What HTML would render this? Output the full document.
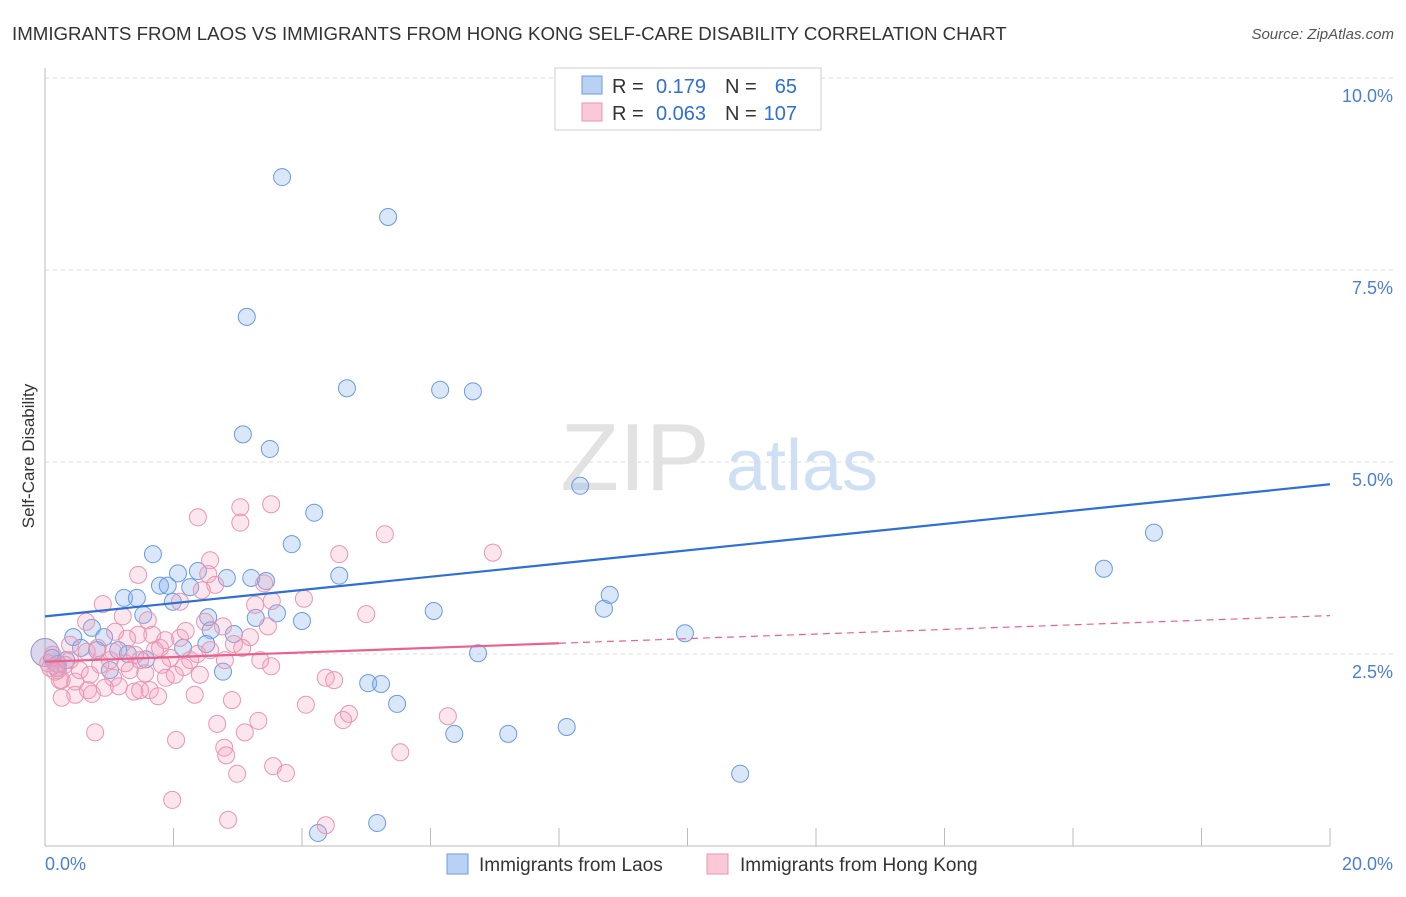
<!DOCTYPE html>
<html><head><meta charset="utf-8"><style>
body{margin:0;background:#fff;font-family:"Liberation Sans",sans-serif;}
svg text{font-family:"Liberation Sans",sans-serif;}
</style></head><body>
<svg id="chart" width="1406" height="892">
<text x="12" y="40" font-size="18.7" fill="#333">IMMIGRANTS FROM LAOS VS IMMIGRANTS FROM HONG KONG SELF-CARE DISABILITY CORRELATION CHART</text>
<text x="1394" y="39" font-size="15" fill="#555" font-style="italic" text-anchor="end">Source: ZipAtlas.com</text>
<g><text x="635" y="490" font-size="96" fill="#e2e2e2" font-family="Liberation Serif" text-anchor="middle">ZIP</text><text x="802" y="490" font-size="72" fill="#cfe0f5" text-anchor="middle">atlas</text></g>
<g id="grid"></g><g id="axes"></g><g id="pts"></g><g id="lines"></g>
<text transform="translate(34,456) rotate(-90)" font-size="17" fill="#333" text-anchor="middle">Self-Care Disability</text>
<g>
<rect x="555" y="68" width="266" height="62" fill="#fff" stroke="#ccc"/>
<rect x="582" y="76" width="20" height="18" fill="#b9d2f4" stroke="#6d9be0"/>
<rect x="582" y="103" width="20" height="18" fill="#f9c9d8" stroke="#e897b0"/>
<text x="612" y="93" font-size="20" fill="#333">R =</text>
<text x="706" y="93" font-size="20" fill="#2d6fd6" text-anchor="end">0.179</text>
<text x="725" y="93" font-size="20" fill="#333">N =</text>
<text x="797" y="93" font-size="20" fill="#2d6fd6" text-anchor="end">65</text>
<text x="612" y="120" font-size="20" fill="#333">R =</text>
<text x="706" y="120" font-size="20" fill="#2d6fd6" text-anchor="end">0.063</text>
<text x="725" y="120" font-size="20" fill="#333">N =</text>
<text x="797" y="120" font-size="20" fill="#2d6fd6" text-anchor="end">107</text>
</g>
<g>
<rect x="447" y="854" width="21" height="20" fill="#b9d2f4" stroke="#6d9be0"/>
<text x="479" y="871" font-size="19" fill="#333">Immigrants from Laos</text>
<rect x="707" y="854" width="21" height="20" fill="#f9c9d8" stroke="#e897b0"/>
<text x="740" y="871" font-size="19" fill="#333">Immigrants from Hong Kong</text>
</g>
</svg>
<script>
const yTicks=[2.5,5.0,7.5,10.0];
const yTickLabels=["2.5%","5.0%","7.5%","10.0%"];
const xTicks=[0,2,4,6,8,10,12,14,16,18,20];
const xEndLabels=["0.0%","20.0%"];
const laosX=[3.69,5.34,3.14,4.70,6.15,6.66,3.08,3.50,8.33,17.26,16.48,4.19,3.84,1.68,2.07,2.83,3.21,3.44,4.58,2.38,1.79,1.91,2.26,1.23,1.43,1.99,1.53,2.54,3.61,3.28,4.00,6.05,8.70,8.79,9.96,0.73,0.44,0.92,2.94,2.58,0.56,0.81,1.14,1.29,1.57,2.15,2.51,6.74,0.33,0.20,0.11,1.01,2.77,5.03,5.23,5.48,6.37,7.21,8.12,10.82,4.25,5.17,11.60,0.19];
const laosY=[8.71,8.19,6.89,5.96,5.94,5.92,5.36,5.17,4.69,4.08,3.61,4.34,3.93,3.80,3.55,3.49,3.49,3.45,3.52,3.58,3.39,3.39,3.37,3.23,3.23,3.18,3.01,2.98,3.03,2.97,2.93,3.06,3.09,3.27,2.77,2.84,2.72,2.72,2.76,2.81,2.58,2.55,2.55,2.50,2.43,2.58,2.63,2.51,2.42,2.37,2.45,2.29,2.27,2.12,2.11,1.85,1.46,1.46,1.55,0.94,0.17,0.30,9.52,2.32];
const hkX=[2.38,3.04,3.52,3.04,4.58,5.29,6.97,2.57,1.45,2.54,3.41,2.44,0.90,1.21,4.03,3.53,2.10,5.00,1.60,2.49,0.64,1.45,1.67,2.10,2.19,3.19,2.77,3.47,2.94,2.37,2.80,1.95,3.07,3.52,1.28,1.79,1.06,0.82,0.65,0.39,0.20,0.26,0.47,0.67,1.06,1.32,1.56,1.82,1.88,2.16,1.63,1.15,1.39,0.47,0.26,0.73,1.76,2.33,2.91,4.37,4.50,4.06,4.73,4.64,6.27,2.68,3.32,3.11,2.04,0.78,2.79,2.82,5.53,2.99,3.55,3.75,1.98,2.85,4.37,0.23,0.16,0.31,0.86,1.01,1.25,1.48,0.54,0.70,0.93,1.71,1.87,2.26,0.05,0.08,0.12,0.39,1.09,1.40,2.02,2.41,3.35,2.57,3.27,2.65,1.48];
const hkY=[4.28,4.41,4.45,4.21,3.80,4.06,3.82,3.72,3.53,3.54,3.42,3.33,3.15,2.99,3.22,3.19,3.18,3.02,2.94,2.92,2.92,2.75,2.75,2.71,2.80,2.72,2.86,2.86,2.63,2.50,2.42,2.45,2.58,2.34,2.70,2.58,2.53,2.58,2.53,2.42,2.29,2.16,2.14,2.03,2.19,2.29,2.25,2.36,2.19,2.33,2.03,2.08,2.01,1.97,1.93,1.98,1.95,1.97,1.90,2.19,2.16,1.84,1.72,1.64,1.69,1.59,1.63,1.48,1.38,1.48,1.28,1.18,1.22,0.94,1.04,0.95,0.60,0.34,0.27,2.16,2.27,2.36,2.36,2.42,2.38,2.42,2.29,2.23,2.06,2.55,2.68,2.42,2.38,2.32,2.49,2.62,2.79,2.49,2.23,2.23,2.42,2.55,3.14,3.40,2.03];
const laosTrend=[2.99,4.71];
const hkTrend=[2.40,3.00];
const hkSolidEnd=8;

const NS="http://www.w3.org/2000/svg";
const X=v=>45+v/20*1285;
const Y=v=>846-v/10*768;
function mk(tag,attrs,parent){const e=document.createElementNS(NS,tag);for(const k in attrs)e.setAttribute(k,attrs[k]);document.getElementById(parent).appendChild(e);return e;}
yTicks.forEach((t,i)=>{
 const g=mk('line',{x1:45,x2:1395,y1:Y(t),y2:Y(t),stroke:'#ddd','stroke-dasharray':'4,4'},'grid');
 
 
 const l=mk('text',{x:1393,y:Y(t)+24,'font-size':18,fill:'#4a7fd4','text-anchor':'end'},'grid');
 l.textContent=yTickLabels[i];
 
 
});
const ya=mk('line',{x1:45,x2:45,y1:68,y2:846,stroke:'#bbb'},'axes');


const xa=mk('line',{x1:45,x2:1330,y1:846,y2:846,stroke:'#bbb'},'axes');


xTicks.forEach(t=>{
 const k=mk('line',{x1:X(t),x2:X(t),y1:828,y2:846,stroke:'#bbb'},'axes');
 
 
});
[[0,'start',45],[20,'end',1393]].forEach((d,i)=>{
 const l=mk('text',{x:d[2],y:870,'font-size':18,fill:'#4a7fd4','text-anchor':d[1]},'axes');
 l.textContent=xEndLabels[i];
 
 
});
const big=mk('circle',{cx:X(0),cy:Y(2.52),r:14,fill:'rgba(150,140,200,0.35)',stroke:'#9d8fc8'},'pts');


laosX.forEach((x,i)=>{
 const c=mk('circle',{cx:X(x),cy:Y(laosY[i]),r:8.5,fill:'rgba(130,175,235,0.3)',stroke:'#6a9ae2','stroke-width':1},'pts');
 
 
});
hkX.forEach((x,i)=>{
 const c=mk('circle',{cx:X(x),cy:Y(hkY[i]),r:8.5,fill:'rgba(245,160,190,0.26)',stroke:'#ea95b0','stroke-width':1},'pts');
 
 
});
const bl=mk('line',{x1:X(0),y1:Y(laosTrend[0]),x2:X(20),y2:Y(laosTrend[1]),stroke:'#2d6fd6','stroke-width':2.2},'lines');


const hm=hkTrend[0]+(hkTrend[1]-hkTrend[0])*hkSolidEnd/20;
const pl=mk('line',{x1:X(0),y1:Y(hkTrend[0]),x2:X(hkSolidEnd),y2:Y(hm),stroke:'#e8628f','stroke-width':2.2},'lines');


const pd=mk('line',{x1:X(hkSolidEnd),y1:Y(hm),x2:X(20),y2:Y(hkTrend[1]),stroke:'#e8628f','stroke-width':1.2,'stroke-dasharray':'7,5'},'lines');


</script>
</body></html>
